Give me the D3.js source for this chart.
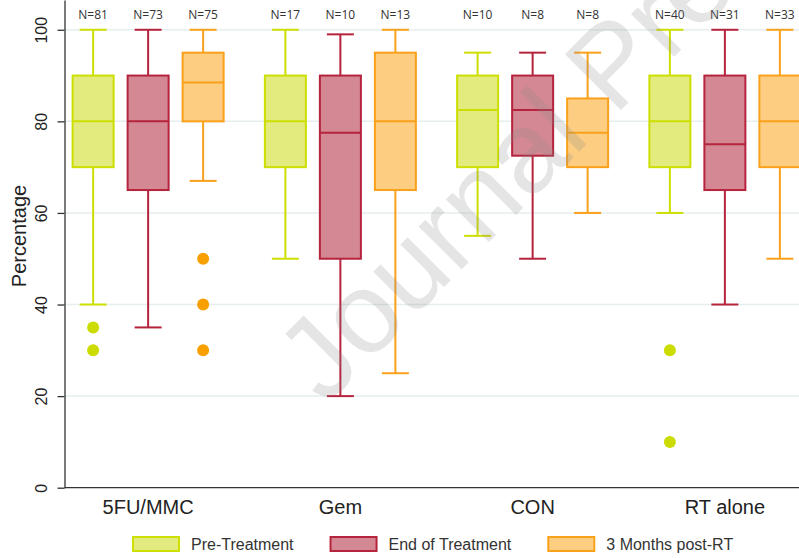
<!DOCTYPE html>
<html>
<head>
<meta charset="utf-8">
<script src="https://cdn.jsdelivr.net/npm/d3@7"></script>
<style>
    body { margin: 0; background: #fff; }
    svg { display: block; }
</style>
</head>
<body>
<div id="chart"></div>
<script>
// treatment groups on the x axis
var groups = ['5FU/MMC', 'Gem', 'CON', 'RT alone'];
var series = ['Pre-Treatment', 'End of Treatment', '3 Months post-RT'];

// [lower whisker, q1, median, q3, upper whisker] per group
var preStats = [[40, 70, 80, 90, 100], [50, 70, 80, 90, 100], [55, 70, 82.5, 90, 95], [60, 70, 80, 90, 100]];
var endStats = [[35, 65, 80, 90, 100], [20, 50, 77.5, 90, 99], [50, 72.5, 82.5, 90, 95], [40, 65, 75, 90, 100]];
var postStats = [[67, 80, 88.5, 95, 100], [25, 65, 80, 95, 100], [60, 70, 77.5, 85, 95], [50, 70, 80, 90, 100]];

var preOutliers = [[35, 30], [], [], [30, 10]];
var endOutliers = [[], [], [], []];
var postOutliers = [[50, 40, 30], [], [], []];

var preCounts = [81, 17, 10, 40];
var endCounts = [73, 10, 8, 31];
var postCounts = [75, 13, 8, 33];

var yTicks = [0, 20, 40, 60, 80, 100];

(function(d3) {
    'use strict';

    var settings = {
        width: 799,
        height: 558,
        axisX: 64.5,
        baseY: 487.7,
        boxWidth: 41,
        capWidth: 27,
        offset: 55
    };

    var styles = [
        { fill: '#e3eb7e', stroke: '#cddf00', dot: '#cddc00' },
        { fill: '#d48893', stroke: '#b5233d', dot: '#b5233d' },
        { fill: '#fdcd82', stroke: '#f9a11b', dot: '#f7a000' }
    ];

    var stats = [preStats, endStats, postStats];
    var outliers = [preOutliers, endOutliers, postOutliers];
    var counts = [preCounts, endCounts, postCounts];

    var svg = d3.select('#chart').append('svg')
        .attr('width', settings.width)
        .attr('height', settings.height)
        .style('font-family', '"Liberation Sans", Arial, sans-serif');

    var y = d3.scaleLinear()
        .domain([0, 106.5])
        .range([settings.baseY, 0]);

    var x = d3.scaleBand()
        .domain(groups)
        .range([52, 821]);

    var sub = d3.scalePoint()
        .domain(series)
        .range([-settings.offset, settings.offset]);

    function cx(gi, si) {
        return x(groups[gi]) + x.bandwidth() / 2 + sub(series[si]);
    }

    // gridlines
    svg.append('g')
        .selectAll('line')
        .data(yTicks.slice(1))
        .enter()
        .append('line')
        .attr('x1', settings.axisX)
        .attr('x2', settings.width)
        .attr('y1', function(d) { return y(d); })
        .attr('y2', function(d) { return y(d); })
        .attr('stroke', '#e6eef0')
        .attr('stroke-width', 1.5);

    // y axis
    var yAxis = svg.append('g')
        .attr('transform', 'translate(' + settings.axisX + ',0)')
        .call(d3.axisLeft(y).tickValues(yTicks).tickSize(7).tickSizeOuter(0));

    yAxis.select('.domain').attr('stroke', '#333').attr('stroke-width', 1.3);
    yAxis.selectAll('.tick line').attr('stroke', '#333').attr('stroke-width', 1.3);
    yAxis.selectAll('.tick text')
        .attr('font-size', 16)
        .attr('font-family', '"Liberation Sans", Arial, sans-serif')
        .attr('fill', '#222')
        .attr('transform', 'rotate(-90)')
        .attr('x', 0)
        .attr('y', -18)
        .attr('dy', 0)
        .attr('text-anchor', 'middle');

    svg.append('text')
        .attr('transform', 'translate(25.5,236) rotate(-90)')
        .attr('text-anchor', 'middle')
        .attr('font-size', 20)
        .attr('fill', '#222')
        .text('Percentage');

    // x axis
    svg.append('line')
        .attr('x1', settings.axisX)
        .attr('x2', settings.width)
        .attr('y1', settings.baseY)
        .attr('y2', settings.baseY)
        .attr('stroke', '#333')
        .attr('stroke-width', 1.3);

    svg.append('g')
        .selectAll('text')
        .data(groups)
        .enter()
        .append('text')
        .attr('x', function(d) { return x(d) + x.bandwidth() / 2; })
        .attr('y', 514)
        .attr('text-anchor', 'middle')
        .attr('font-size', 20)
        .attr('fill', '#222')
        .text(function(d) { return d; });

    // boxes
    series.forEach(function(s, si) {
        var st = styles[si];
        var g = svg.append('g').attr('class', 'series');

        var box = g.selectAll('.box')
            .data(stats[si])
            .enter()
            .append('g')
            .attr('class', 'box');

        box.append('line')
            .attr('x1', function(d, i) { return cx(i, si); })
            .attr('x2', function(d, i) { return cx(i, si); })
            .attr('y1', function(d) { return y(d[0]); })
            .attr('y2', function(d) { return y(d[4]); })
            .attr('stroke', st.stroke)
            .attr('stroke-width', 2);

        [0, 4].forEach(function(k) {
            box.append('line')
                .attr('x1', function(d, i) { return cx(i, si) - settings.capWidth / 2; })
                .attr('x2', function(d, i) { return cx(i, si) + settings.capWidth / 2; })
                .attr('y1', function(d) { return y(d[k]); })
                .attr('y2', function(d) { return y(d[k]); })
                .attr('stroke', st.stroke)
                .attr('stroke-width', 2);
        });

        box.append('rect')
            .attr('x', function(d, i) { return cx(i, si) - settings.boxWidth / 2; })
            .attr('width', settings.boxWidth)
            .attr('y', function(d) { return y(d[3]); })
            .attr('height', function(d) { return y(d[1]) - y(d[3]); })
            .attr('fill', st.fill)
            .attr('stroke', st.stroke)
            .attr('stroke-width', 2);

        box.append('line')
            .attr('x1', function(d, i) { return cx(i, si) - settings.boxWidth / 2; })
            .attr('x2', function(d, i) { return cx(i, si) + settings.boxWidth / 2; })
            .attr('y1', function(d) { return y(d[2]); })
            .attr('y2', function(d) { return y(d[2]); })
            .attr('stroke', st.stroke)
            .attr('stroke-width', 2);

        outliers[si].forEach(function(vals, gi) {
            g.selectAll(null)
                .data(vals)
                .enter()
                .append('circle')
                .attr('cx', cx(gi, si))
                .attr('cy', function(d) { return y(d); })
                .attr('r', 6)
                .attr('fill', st.dot);
        });

        g.selectAll('.count')
            .data(counts[si])
            .enter()
            .append('text')
            .attr('class', 'count')
            .attr('x', function(d, i) { return cx(i, si); })
            .attr('y', 19)
            .attr('text-anchor', 'middle')
            .attr('font-family', '"Open Sans", sans-serif')
            .attr('font-size', 12)
            .attr('fill', '#333')
            .text(function(d) { return 'N=' + d; });
    });

    // legend
    var legendX = 133;
    series.forEach(function(s, si) {
        var item = svg.append('g')
            .attr('class', 'legend')
            .attr('transform', 'translate(' + legendX + ',537)');

        item.append('rect')
            .attr('width', 46)
            .attr('height', 14)
            .attr('fill', styles[si].fill)
            .attr('stroke', styles[si].stroke)
            .attr('stroke-width', 2);

        var label = item.append('text')
            .attr('x', 58)
            .attr('y', 13)
            .attr('font-size', 16)
            .attr('fill', '#333')
            .text(s);

        legendX += 58 + label.node().getComputedTextLength() + 37;
    });

    // watermark (runs off the top-right edge, as in the source figure)
    svg.append('text')
        .attr('transform', 'translate(325,406) rotate(-45)')
        .attr('font-size', 115)
        .attr('fill', '#888')
        .attr('fill-opacity', 0.22)
        .text('Journal Pre-proof');

})(window.d3);
</script>
</body>
</html>
